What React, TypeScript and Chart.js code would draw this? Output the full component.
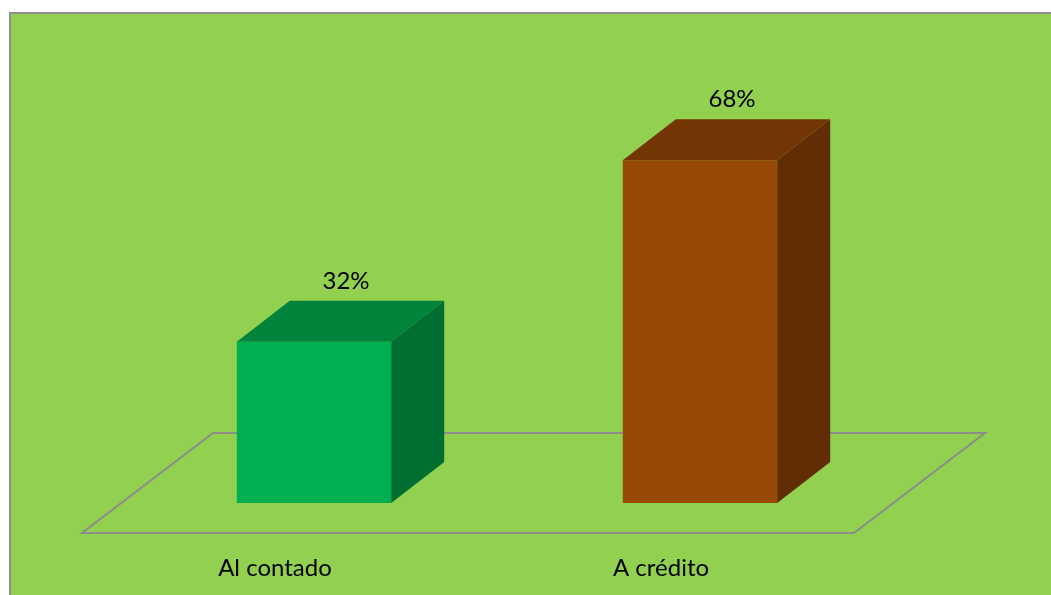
import React, { useEffect, useRef } from "react";
import { Chart, registerables } from "chart.js";

Chart.register(...registerables);

const categories: string[] = ["Al contado", "A crédito"];
const values: number[] = [32, 68];
const valueLabels: string[] = ["32%", "68%"];

const frontColors = ["#00B050", "#984807"];
const topColors = ["#00843C", "#743505"];
const sideColors = ["#006F31", "#622D04"];

const DEPTH_DX = 53;
const DEPTH_DY = 41;
const FLOOR_DX = 131;
const FLOOR_DY = 100;
const FRONT_INSET_DY = 30;
const FRONT_INSET_DX = 39;

const FONT = "24px Lato, 'Open Sans', sans-serif";

const threeDPlugin = {
  id: "threeD",
  beforeDraw(chart: any) {
    const ctx = chart.ctx as CanvasRenderingContext2D;
    const W = chart.width;
    const H = chart.height;
    ctx.save();
    ctx.fillStyle = "#ffffff";
    ctx.fillRect(0, 0, W, H);
    ctx.fillStyle = "#92D050";
    ctx.fillRect(10, 13, W + 20, H + 20);
    ctx.strokeStyle = "#8E8E8E";
    ctx.lineWidth = 2;
    ctx.strokeRect(10, 13, W + 20, H + 20);
    ctx.restore();
  },
  beforeDatasetsDraw(chart: any) {
    const ctx = chart.ctx as CanvasRenderingContext2D;
    const x = chart.scales.x;
    const y = chart.scales.y;
    const base = y.getPixelForValue(0);
    const fy = base + FRONT_INSET_DY;
    const fl = x.left - FRONT_INSET_DX;
    const fr = x.right - FRONT_INSET_DX;
    ctx.save();
    ctx.strokeStyle = "#8C8C8C";
    ctx.lineWidth = 2;
    ctx.beginPath();
    ctx.moveTo(fl, fy);
    ctx.lineTo(fr, fy);
    ctx.lineTo(fr + FLOOR_DX, fy - FLOOR_DY);
    ctx.lineTo(fl + FLOOR_DX, fy - FLOOR_DY);
    ctx.closePath();
    ctx.stroke();
    ctx.restore();
  },
  afterDatasetsDraw(chart: any) {
    const ctx = chart.ctx as CanvasRenderingContext2D;
    const meta = chart.getDatasetMeta(0);
    const y = chart.scales.y;
    const base = y.getPixelForValue(0);
    ctx.save();
    meta.data.forEach((bar: any, i: number) => {
      const l = bar.x - bar.width / 2;
      const r = bar.x + bar.width / 2;
      const t = bar.y;
      // top face
      ctx.fillStyle = topColors[i];
      ctx.beginPath();
      ctx.moveTo(l, t);
      ctx.lineTo(r, t);
      ctx.lineTo(r + DEPTH_DX, t - DEPTH_DY);
      ctx.lineTo(l + DEPTH_DX, t - DEPTH_DY);
      ctx.closePath();
      ctx.fill();
      // side face
      ctx.fillStyle = sideColors[i];
      ctx.beginPath();
      ctx.moveTo(r, t);
      ctx.lineTo(r + DEPTH_DX, t - DEPTH_DY);
      ctx.lineTo(r + DEPTH_DX, base - DEPTH_DY);
      ctx.lineTo(r, base);
      ctx.closePath();
      ctx.fill();
      // value label
      ctx.fillStyle = "#000000";
      ctx.font = FONT;
      ctx.textAlign = "center";
      ctx.textBaseline = "alphabetic";
      ctx.fillText(valueLabels[i], bar.x + 32, t - DEPTH_DY - 12);
      // category label
      ctx.fillText(categories[i], bar.x - FRONT_INSET_DX, base + 73);
    });
    ctx.restore();
  },
};

export default function App() {
  const ref = useRef<HTMLCanvasElement | null>(null);
  useEffect(() => {
    if (!ref.current) return;
    const chart = new Chart(ref.current, {
      type: "bar",
      data: {
        labels: categories,
        datasets: [
          {
            data: values,
            backgroundColor: frontColors,
            borderWidth: 0,
            barPercentage: 0.4,
            categoryPercentage: 1,
          },
        ],
      },
      options: {
        responsive: false,
        animation: false,
        layout: { padding: { left: 121, right: 158, top: 49.4, bottom: 92 } },
        plugins: {
          legend: { display: false },
          tooltip: { enabled: false },
        },
        scales: {
          x: { display: false, offset: true },
          y: { display: false, min: 0, max: 90 },
        },
      },
      plugins: [threeDPlugin],
    });
    return () => chart.destroy();
  }, []);
  return (
    <canvas
      ref={ref}
      width={1051}
      height={595}
      style={{ position: "fixed", left: 0, top: 0, width: 1051, height: 595 }}
    />
  );
}
